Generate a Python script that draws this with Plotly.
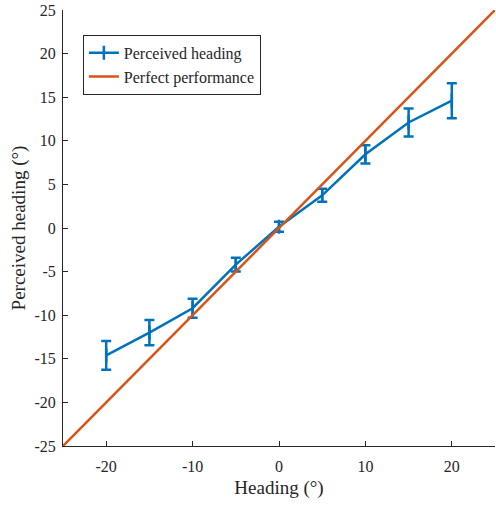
import plotly.graph_objects as go

# Measured heading responses
heading = [-20, -15, -10, -5, 0, 5, 10, 15, 20]
perceived = [-14.6, -12.0, -9.2, -4.2, 0.15, 3.75, 8.45, 12.1, 14.6]
perceived_err = [1.65, 1.45, 1.1, 0.8, 0.57, 0.75, 1.05, 1.6, 2.0]

# Identity line
ideal_x = [-25, 25]
ideal_y = [-25, 25]

tick_x = [-20, -10, 0, 10, 20]
tick_y = [-25, -20, -15, -10, -5, 0, 5, 10, 15, 20, 25]

BLUE = "#0072BD"
ORANGE = "#D95319"
INK = "#262626"
FONT = "Liberation Serif, DejaVu Serif, serif"

fig = go.Figure()
fig.add_trace(go.Scatter(
    x=heading, y=perceived, mode="lines+markers",
    name="Perceived heading",
    line=dict(color=BLUE, width=2.5),
    # thin vertical tick so the legend glyph carries an error-bar stem
    marker=dict(symbol="line-ns", size=10, color=BLUE,
                line=dict(color=BLUE, width=2.5)),
    error_y=dict(type="data", array=perceived_err, visible=True,
                 color=BLUE, thickness=2.5, width=5),
))
fig.add_trace(go.Scatter(
    x=ideal_x, y=ideal_y, mode="lines",
    name="Perfect performance",
    line=dict(color=ORANGE, width=2.5),
))

axis_common = dict(
    showline=True, linecolor=INK, linewidth=1,
    ticks="inside", ticklen=5, tickcolor=INK,
    showgrid=False, zeroline=False, mirror=False,
    tickfont=dict(family=FONT, size=16, color=INK),
)

fig.update_layout(
    width=496, height=505,
    margin=dict(l=63, r=1, t=10, b=59),
    paper_bgcolor="white", plot_bgcolor="white",
    font=dict(family=FONT, size=16, color=INK),
    xaxis=dict(range=[-25, 25], tickvals=tick_x, ticktext=[str(v) for v in tick_x],
               ticklabelstandoff=6,
               title=dict(text="Heading (°)", standoff=6,
                          font=dict(family=FONT, size=19, color=INK)),
               **axis_common),
    yaxis=dict(range=[-25, 25], tickvals=tick_y, ticktext=[str(v) for v in tick_y],
               ticklabelstandoff=3,
               title=dict(text="Perceived heading (°)", standoff=3,
                          font=dict(family=FONT, size=19, color=INK)),
               **axis_common),
    legend=dict(x=0.046, y=0.943, xanchor="left", yanchor="top",
                bgcolor="white", bordercolor=INK, borderwidth=1,
                font=dict(family=FONT, size=16, color=INK),
                tracegroupgap=0),
    showlegend=True,
)

fig.write_html("out.html")
